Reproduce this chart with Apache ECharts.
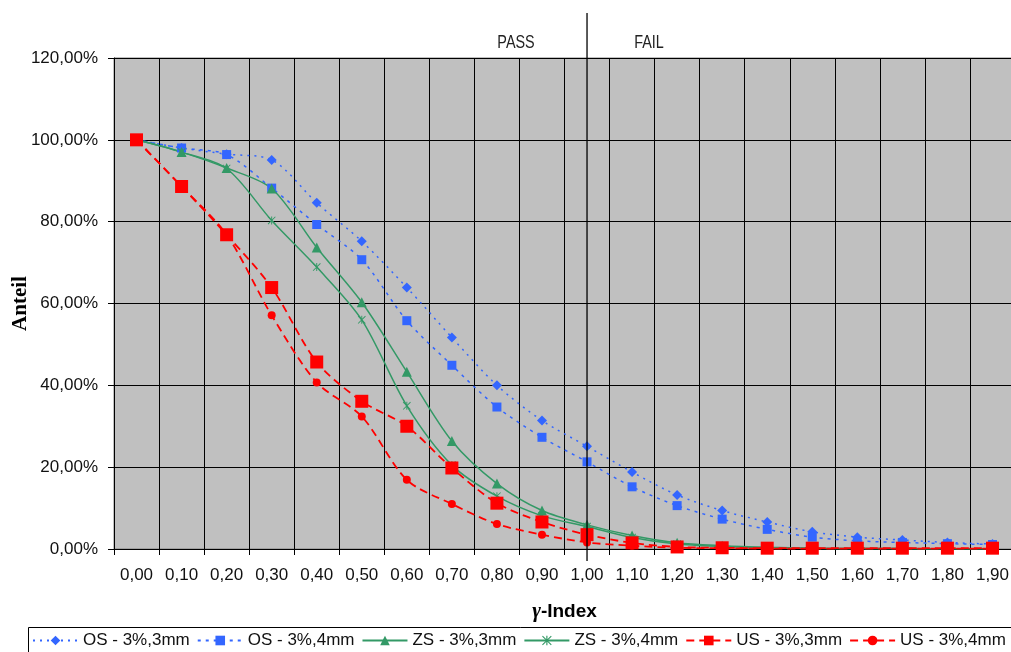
<!DOCTYPE html>
<html>
<head>
<meta charset="utf-8">
<style>
  html, body { margin: 0; padding: 0; background: #fff; }
  #chart { width: 1011px; height: 652px; }
</style>
<script src="https://cdn.jsdelivr.net/npm/echarts@6/dist/echarts.min.js"></script>
</head>
<body>
<div id="chart"></div>
<script>
// Gamma-index categories (x axis)
const gammaIndex = ['0,00','0,10','0,20','0,30','0,40','0,50','0,60','0,70','0,80','0,90',
                    '1,00','1,10','1,20','1,30','1,40','1,50','1,60','1,70','1,80','1,90'];

// Share of points (%) with gamma index >= category
const os3mm = [100, 98.0, 96.5, 95.1, 84.6, 75.2, 63.9, 51.7, 40.0, 31.4, 25.1, 18.8, 13.2, 9.4, 6.6, 4.2, 2.9, 2.2, 1.6, 1.2];
const os4mm = [100, 98.0, 96.4, 88.2, 79.3, 70.7, 55.8, 44.9, 34.7, 27.3, 21.3, 15.2, 10.6, 7.3, 4.8, 2.9, 2.0, 1.6, 1.3, 1.1];
const zs3mm = [100, 97.0, 93.1, 88.1, 73.7, 60.3, 43.3, 26.4, 16.0, 9.4, 5.9, 3.3, 1.5, 0.8, 0.4, 0.2, 0.1, 0.1, 0.05, 0.05];
const zs4mm = [100, 97.0, 93.0, 80.3, 68.9, 56.0, 35.0, 20.5, 12.9, 8.1, 5.5, 2.8, 1.2, 0.6, 0.3, 0.2, 0.1, 0.1, 0.05, 0.05];
const us3mm = [100, 88.6, 76.8, 63.9, 45.7, 36.1, 30.0, 19.8, 11.2, 6.6, 3.5, 1.5, 0.5, 0.3, 0.2, 0.2, 0.2, 0.2, 0.2, 0.2];
const us4mm = [100, 88.6, 76.8, 57.1, 40.7, 32.4, 16.9, 11.0, 6.1, 3.5, 1.6, 0.8, 0.3, 0.2, 0.1, 0.1, 0.1, 0.1, 0.1, 0.1];

const seriesNames = ['OS - 3%,3mm', 'OS - 3%,4mm', 'ZS - 3%,3mm', 'ZS - 3%,4mm', 'US - 3%,3mm', 'US - 3%,4mm'];

const BLUE = '#3366FF';
const GREEN = '#339966';
const RED = '#FF0000';
const FONT = '"Liberation Sans", Arial, sans-serif';

// asterisk marker: vertical bar plus two diagonals
const ASTERISK = 'path://M4.4,0H5.6V10H4.4Z M0,0.8L0.8,0L10,9.2L9.2,10Z M9.2,0L10,0.8L0.8,10L0,9.2Z';

function pct(v) { return v.toFixed(2).replace('.', ',') + '%'; }

function lineSeries(name, data, color, dash, width, symbol, size) {
  return {
    name: name,
    type: 'line',
    data: data,
    smooth: 0.3,
    showSymbol: true,
    showAllSymbol: true,
    symbol: symbol,
    symbolSize: size,
    lineStyle: { color: color, width: width, type: dash },
    itemStyle: { color: color, borderWidth: 0 },
    emphasis: { disabled: true },
    animation: false
  };
}

const chart = echarts.init(document.getElementById('chart'), null, { renderer: 'canvas' });

const option = {
  backgroundColor: '#ffffff',
  animation: false,
  textStyle: { fontFamily: FONT },
  grid: {
    left: 114, top: 58, width: 901, height: 491,
    outerBoundsMode: 'none',
    containLabel: false,
    show: true, backgroundColor: '#C0C0C0', borderColor: '#808080', borderWidth: 1
  },
  xAxis: {
    type: 'category',
    data: gammaIndex,
    boundaryGap: true,
    name: '{g|γ}{t|-Index}',
    nameLocation: 'middle',
    nameGap: 52,
    nameMoveOverlap: false,
    nameTextStyle: {
      rich: {
        g: { fontFamily: '"Liberation Serif", "Times New Roman", serif', fontStyle: 'italic', fontWeight: 'bold', fontSize: 21, color: '#000' },
        t: { fontFamily: FONT, fontWeight: 'bold', fontSize: 19, color: '#000' }
      }
    },
    axisLine: { show: true, lineStyle: { color: '#000', width: 1 } },
    axisTick: { show: true, interval: 0, length: 6, lineStyle: { color: '#000' } },
    axisLabel: { interval: 0, margin: 18, fontSize: 17, color: '#111', fontFamily: FONT },
    splitLine: { show: true, interval: 0, lineStyle: { color: '#000', width: 1 } }
  },
  yAxis: {
    type: 'value',
    min: 0, max: 120, interval: 20,
    name: 'Anteil',
    nameLocation: 'middle',
    nameGap: 83,
    nameMoveOverlap: false,
    nameTextStyle: { fontFamily: '"Liberation Serif", "Times New Roman", serif', fontWeight: 'bold', fontSize: 21, color: '#000' },
    axisLine: { show: true, lineStyle: { color: '#000', width: 1 } },
    axisTick: { show: true, length: 6, lineStyle: { color: '#000' } },
    axisLabel: { margin: 16, fontSize: 17, color: '#111', fontFamily: FONT, formatter: pct },
    splitLine: { show: true, lineStyle: { color: '#000', width: 1 } }
  },
  legend: {
    left: 32, top: 632,
    itemWidth: 45, itemHeight: 12, itemGap: 7,
    padding: 0,
    textStyle: { fontSize: 17, color: '#111', fontFamily: FONT },
    data: seriesNames
  },
  series: [
    lineSeries(seriesNames[0], os3mm, BLUE, [2, 5], 1.5, 'diamond', 10),
    lineSeries(seriesNames[1], os4mm, BLUE, [3, 5], 1.5, 'rect', 9),
    lineSeries(seriesNames[2], zs3mm, GREEN, 'solid', 1.5, 'triangle', 10),
    lineSeries(seriesNames[3], zs4mm, GREEN, 'solid', 1.5, ASTERISK, 8),
    lineSeries(seriesNames[4], us3mm, RED, [8, 5], 1.8, 'rect', 13),
    lineSeries(seriesNames[5], us4mm, RED, [8, 5], 1.8, 'circle', 8)
  ]
};

chart.setOption(option);

// PASS / FAIL divider at gamma = 1,00, placed through the category axis
const xDiv = chart.convertToPixel({ xAxisIndex: 0 }, '1,00');
const yTop = chart.convertToPixel({ yAxisIndex: 0 }, 120);
chart.setOption({
  graphic: [
    { type: 'line', silent: true, z: 100,
      shape: { x1: xDiv, y1: 13, x2: xDiv, y2: 561 },
      style: { stroke: '#000', lineWidth: 1.3 } },
    { type: 'text', silent: true, z: 100, x: xDiv - 71, y: yTop - 15, scaleX: 0.8,
      style: { text: 'PASS', font: '18px ' + FONT, fill: '#222', align: 'center', verticalAlign: 'middle' } },
    { type: 'text', silent: true, z: 100, x: xDiv + 62, y: yTop - 15, scaleX: 0.8,
      style: { text: 'FAIL', font: '18px ' + FONT, fill: '#222', align: 'center', verticalAlign: 'middle' } },
    { type: 'rect', silent: true, z: 0,
      shape: { x: 28.5, y: 627.5, width: 1000, height: 40 },
      style: { fill: 'none', stroke: '#000', lineWidth: 1 } }
  ]
});
</script>
</body>
</html>
